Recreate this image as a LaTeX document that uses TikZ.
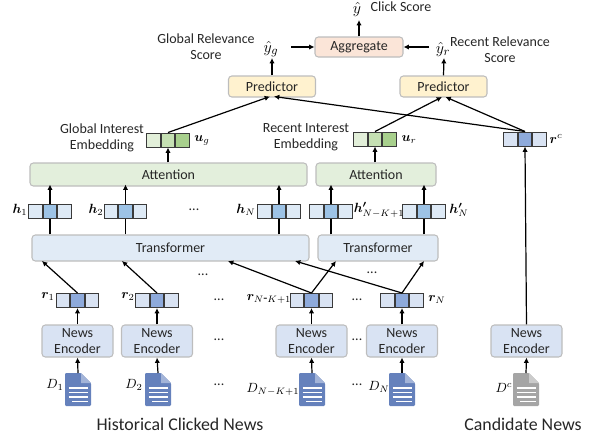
\documentclass[tikz,border=0pt]{standalone}
\usepackage{fontspec}
\usepackage{bm}
\setmainfont{Carlito}
\usetikzlibrary{arrows.meta}
\def\ux{0.75pt}
\definecolor{edgegray}{HTML}{BDBDBD}
\definecolor{cellline}{HTML}{3A3A3A}
\definecolor{attfill}{HTML}{E3EFDC}
\definecolor{transfill}{HTML}{E1EBF6}
\definecolor{encfill}{HTML}{D9E3F3}
\definecolor{predfill}{HTML}{FFF2CF}
\definecolor{aggfill}{HTML}{FBE5D8}
\definecolor{hlight}{HTML}{DEEAF6}
\definecolor{hdark}{HTML}{9DC3E6}
\definecolor{rlight}{HTML}{D9E3F3}
\definecolor{rdark}{HTML}{8EAADB}
\definecolor{ulight}{HTML}{E2EFD9}
\definecolor{umid}{HTML}{C5E0B3}
\definecolor{udark}{HTML}{A8D08D}
\definecolor{docblue}{HTML}{6581BC}
\definecolor{docbluefold}{HTML}{A3B4D8}
\definecolor{docgray}{HTML}{A5A5A5}
\definecolor{docgrayfold}{HTML}{CBCBCB}
\tikzset{
	block/.style={draw=edgegray,line width=0.8pt,rounded corners=2.5pt,align=center,inner sep=0pt,text=black!85},
	attbox/.style={block,fill=attfill,minimum height=23*\ux},
	transbox/.style={block,fill=transfill,minimum height=26*\ux},
	encbox/.style={block,fill=encfill,minimum width=71*\ux,minimum height=32*\ux},
	predbox/.style={block,fill=predfill,minimum width=87*\ux,minimum height=21*\ux},
	aggbox/.style={block,fill=aggfill,minimum width=88*\ux,minimum height=20*\ux},
	cell/.style={draw=cellline,line width=0.75pt,minimum width=13.4*\ux,minimum height=14*\ux,inner sep=0pt},
	arr/.style={-{Latex[length=4pt,width=4pt]},line width=0.9pt,black},
	lbl/.style={inner sep=0pt,align=center,text=black!85},
	mathlbl/.style={lbl,text=black,font=\fontsize{10}{12}\selectfont},
	scorelbl/.style={lbl,text=black,font=\fontsize{13}{15}\selectfont},
	biglbl/.style={lbl,font=\fontsize{13.4}{16}\selectfont},
}
\begin{document}
\begin{tikzpicture}[x=\ux,y=-\ux,font=\fontsize{10.5}{12.2}\selectfont]
		\useasboundingbox (0,0) rectangle (593,437);

		% blocks
		\node[attbox,minimum width=277*\ux] (att1) at (168.5,174.5) {Attention};
		\node[attbox,minimum width=120*\ux] (att2) at (376,174.5) {Attention};
		\node[transbox,minimum width=277*\ux] (trans1) at (170.5,248) {Transformer};
		\node[transbox,minimum width=120*\ux] (trans2) at (378,248) {Transformer};
		\node[predbox] (pred1) at (272,86.5) {Predictor};
		\node[predbox] (pred2) at (443.5,86.5) {Predictor};
		\node[aggbox] (agg) at (359,47) {Aggregate};
		\foreach \name/\x in {enc1/77.5,enc2/157,enc3/311.5,enc4/402,enc5/526.5}{
			\node[encbox] (\name) at (\x,341) {News\\Encoder};
		}

		% three-cell vectors
		\foreach \name/\x/\y/\ca/\cb/\cc in {
			h1/50/211/hlight/hdark/hlight, h2/125.5/211/hlight/hdark/hlight,
			h3/279/211/hlight/hdark/hlight, h4/331/211/hlight/hdark/hlight,
			h5/424/211/hlight/hdark/hlight,
			r1/77.5/300.5/rlight/rdark/rlight, r2/157/300.5/rlight/rdark/rlight,
			r3/311.5/300.5/rlight/rdark/rlight, r4/402/300.5/rlight/rdark/rlight,
			rc/525/139/rlight/rdark/rlight,
			ug/168/140/ulight/umid/udark, ur/375/139/ulight/umid/udark}{
			\node[cell,fill=\cb] (\name) at (\x,\y) {};
			\node[cell,fill=\ca,anchor=east] (\name l) at (\name.west) {};
			\node[cell,fill=\cc,anchor=west] (\name r) at (\name.east) {};
		}

		% news documents
		\foreach \name/\x/\body/\fold in {
			d1/78/docblue/docbluefold, d2/158/docblue/docbluefold,
			d3/312/docblue/docbluefold, d4/402/docblue/docbluefold,
			d5/526/docgray/docgrayfold}{
			\coordinate (\name) at (\x,373);
			\fill[\body,rounded corners=0.8pt] (\x-13,373) -- (\x+3,373) -- (\x+13,383) -- (\x+13,406) -- (\x-13,406) -- cycle;
			\fill[\fold] (\x+3,373) -- (\x+13,383) -- (\x+3,383) -- cycle;
			\foreach \l/\w in {388/9.5,392.5/9.5,397/9.5,401.5/6}{
				\draw[white,line width=0.9pt] (\x-\w,\l) -- (\x+9.5,\l);
			}
		}

		% up through the stack
		\foreach \a/\b in {d1/enc1,d2/enc2,d3/enc3,d4/enc4,d5/enc5}{
			\draw[arr] (\a) -- (\b.south);
		}
		\foreach \a/\b in {enc1/r1,enc2/r2,enc3/r3,enc4/r4}{
			\draw[arr] (\a.north) -- (\b.south);
		}
		\draw[arr] (enc5.north) -- (rc.south);

		\coordinate (t1) at (42,261);
		\coordinate (t2) at (122,261);
		\coordinate (t3) at (228,261);
		\coordinate (t4) at (295,261);
		\coordinate (t5) at (336,261);
		\coordinate (t6) at (424,261);
		\draw[arr] (r1.north) -- (t1);
		\draw[arr] (r2.north) -- (t2);
		\draw[arr] (r3.north) -- (t3);
		\draw[arr] (r4.north) -- (t4);
		\draw[arr] (r3.north) -- (t5);
		\draw[arr] (r4.north) -- (t6);

		\foreach \b/\t in {h1/trans1,h2/trans1,h3/trans1,h4/trans2,h5/trans2}{
			\draw[line width=0.9pt] (\b.south |- \t.north) -- (\b.south);
		}
		\foreach \b/\t in {h1/att1,h2/att1,h3/att1,h4/att2,h5/att2}{
			\draw[arr] (\b.north) -- ([yshift=1.5pt]\b.north |- \t.south);
		}
		\draw[arr] (att1.north -| ug.south) -- (ug.south);
		\draw[arr] (att2.north -| ur.south) -- (ur.south);

		\coordinate (pa) at (270,96.5);
		\coordinate (pb) at (274,96.5);
		\coordinate (pc) at (442,97);
		\coordinate (pd) at (445.5,97);
		\draw[arr] (ug.north) -- (pa);
		\draw[arr] (rc.north) -- (pb);
		\draw[arr] (ur.north) -- (pc);
		\draw[arr] (rc.north) -- (pd);

		% scores
		\node[scorelbl] (yg) at (271,49) {$\hat{y}_g$};
		\node[scorelbl] (yr) at (443,49) {$\hat{y}_r$};
		\node[scorelbl] (y) at (357,9) {$\hat{y}$};
		\coordinate (yga) at (291,47);
		\coordinate (yra) at (429,47);
		\coordinate (ya) at (359,20);
		\coordinate (ygb) at (272,58);
		\coordinate (yrb) at (444,58);
		\draw[arr] (pred1.north) -- (ygb);
		\draw[arr] (pred2.north) -- (yrb);
		\draw[arr] (yga) -- (agg.west);
		\draw[arr] (yra) -- (agg.east);
		\draw[arr] (agg.north) -- (ya);

		% labels
		\node[lbl] (globalscore) at (206,47) {Global Relevance\\Score};
		\node[lbl] (recentscore) at (500,50) {Recent Relevance\\Score};
		\node[lbl] (clickscore) at (401,7) {Click Score};
		\node[lbl] (globalemb) at (102,137.5) {Global Interest\\Embedding};
		\node[lbl] (recentemb) at (306,137.5) {Recent Interest\\Embedding};

		\node[mathlbl] (lug) at (202,140) {$\bm{u}_g$};
		\node[mathlbl] (lur) at (409,140) {$\bm{u}_r$};
		\node[mathlbl] (lrc) at (556,139) {$\bm{r}^c$};
		\node[mathlbl] (lh1) at (20,210) {$\bm{h}_1$};
		\node[mathlbl] (lh2) at (96,210) {$\bm{h}_2$};
		\node[mathlbl] (lh3) at (246,210) {$\bm{h}_N$};
		\node[mathlbl] (lh4) at (379,210) {$\bm{h'}_{N-K+1}$};
		\node[mathlbl] (lh5) at (459,210) {$\bm{h'}_N$};
		\node[mathlbl] (lr1) at (48,297) {$\bm{r}_1$};
		\node[mathlbl] (lr2) at (128,297) {$\bm{r}_2$};
		\node[mathlbl] (lr3) at (269,299) {$\bm{r}_{N\textrm{-}K+1}$};
		\node[mathlbl] (lr4) at (437,300) {$\bm{r}_N$};
		\node[mathlbl] (ld1) at (55,385) {$D_1$};
		\node[mathlbl] (ld2) at (134,385) {$D_2$};
		\node[mathlbl] (ld3) at (273,389) {$D_{N-K+1}$};
		\node[mathlbl] (ld4) at (379,387) {$D_N$};
		\node[mathlbl] (ld5) at (504,388) {$D^c$};

		% dots
		\foreach \x/\y in {194/210,203/275,372/273,219/300,357/300,219/340,357/340,219/385,357/385}{
			\node[lbl] at (\x,\y) {...};
		}

		\node[biglbl] (hist) at (180,424) {Historical Clicked News};
		\node[biglbl] (cand) at (523,424) {Candidate News};
\end{tikzpicture}
\end{document}
